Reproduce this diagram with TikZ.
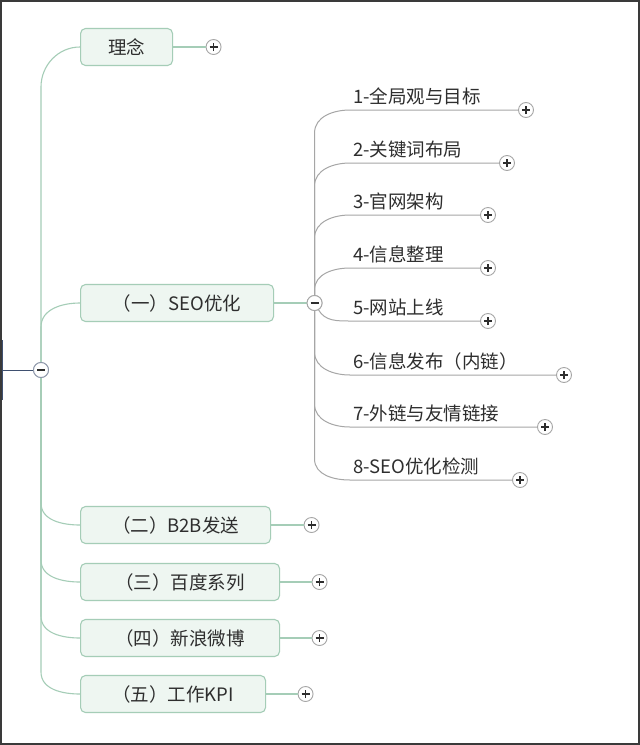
\documentclass[tikz,border=0pt]{standalone}
\usepackage{fontspec}
\setmainfont{Noto Sans CJK SC}
\usetikzlibrary{positioning,calc}
\definecolor{MapGreen}{HTML}{A5CDB7}
\definecolor{MapFill}{HTML}{EEF6F1}
\definecolor{MapGray}{HTML}{A6A6A6}
\definecolor{MapInk}{HTML}{2E2E2E}
\definecolor{RootInk}{HTML}{3F5070}
\definecolor{FrameInk}{HTML}{3A3A3A}

\begin{document}
\begin{tikzpicture}[x=1pt, y=-1pt,
  topicbox/.style={rounded corners=5pt, draw=MapGreen, line width=1.1pt,
               fill=MapFill, minimum height=37pt, anchor=west, inner sep=0pt,
               font=\fontsize{18.5}{21}\selectfont, text=MapInk},
  subtopic/.style={anchor=south west, inner xsep=3pt, inner ysep=2.5pt,
               text height=14pt, text depth=4pt,
               font=\fontsize{18.5}{21}\selectfont, text=MapInk},
  toggle/.style={circle, draw=MapGray, fill=white, line width=0.9pt,
               minimum size=15pt, inner sep=0pt},
  plusmark/.style={toggle, path picture={
      \draw[MapInk, line width=1.1pt]
        ([xshift=-4pt]path picture bounding box.center) -- ([xshift=4pt]path picture bounding box.center)
        ([yshift=-4pt]path picture bounding box.center) -- ([yshift=4pt]path picture bounding box.center);}},
  minusmark/.style={toggle, path picture={
      \draw[MapInk, line width=1.6pt]
        ([xshift=-4pt]path picture bounding box.center) -- ([xshift=4pt]path picture bounding box.center);}},
  mainlink/.style={draw=MapGreen, line width=1.1pt},
  sublink/.style={draw=MapGray, line width=1pt},
  rootlink/.style={draw=RootInk, line width=1pt}
]
\useasboundingbox (0,0) rectangle (640,745);
\fill[white] (0,0) rectangle (640,745);

% root side
\node[fill=RootInk, minimum width=2.5pt, minimum height=60pt, inner sep=0pt] (root) at (1.25,370) {};
\node[minusmark, draw=RootInk!60] (rootc) at (41,370) {};

% main topics
\node[topicbox, minimum width=92pt] (idea) at (80,47) {理念};
\node[topicbox, minimum width=193pt] (seo) at (80,303) {（一）SEO优化};
\node[topicbox, minimum width=190pt] (btob) at (80,525) {（二）B2B发送};
\node[topicbox, minimum width=199pt] (baidu) at (80,582) {（三）百度系列};
\node[topicbox, minimum width=199pt] (sina) at (80,638) {（四）新浪微博};
\node[topicbox, minimum width=185pt] (kpi) at (80,694) {（五）工作KPI};

\node[plusmark, right=32.5pt of idea] (ideap) {};
\node[minusmark, right=32.5pt of seo] (seoc) {};
\node[plusmark, right=32.5pt of btob] (btobp) {};
\node[plusmark, right=31.5pt of baidu] (baidup) {};
\node[plusmark, right=31.5pt of sina] (sinap) {};
\node[plusmark, right=31.5pt of kpi] (kpip) {};

% SEO subtopics
\node[subtopic] (t1) at (350,110) {1-全局观与目标};
\node[subtopic] (t2) at (350,163) {2-关键词布局};
\node[subtopic] (t3) at (350,215) {3-官网架构};
\node[subtopic] (t4) at (350,268) {4-信息整理};
\node[subtopic] (t5) at (350,321) {5-网站上线};
\node[subtopic] (t6) at (350,375) {6-信息发布（内链）};
\node[subtopic] (t7) at (350,427) {7-外链与友情链接};
\node[subtopic] (t8) at (350,480) {8-SEO优化检测};

\node[plusmark] (p1) at (526,110) {};
\node[plusmark] (p2) at (507,163) {};
\node[plusmark] (p3) at (488,215) {};
\node[plusmark] (p4) at (488,268) {};
\node[plusmark] (p5) at (488,321) {};
\node[plusmark] (p6) at (564,375) {};
\node[plusmark] (p7) at (545,427) {};
\node[plusmark] (p8) at (520,480) {};

\draw[rootlink] (root) -- (rootc);

\draw[mainlink] (rootc) -- ($(rootc |- idea.west)+(0,40)$) to[out=90,in=180] (idea.west);
\draw[mainlink] (rootc) -- ($(rootc |- seo.west)+(0,24)$) to[out=90,in=180] (seo.west);
\draw[mainlink] (rootc) -- ($(rootc |- btob.west)+(0,-22)$) to[out=-90,in=180] (btob.west);
\draw[mainlink] (rootc) -- ($(rootc |- baidu.west)+(0,-22)$) to[out=-90,in=180] (baidu.west);
\draw[mainlink] (rootc) -- ($(rootc |- sina.west)+(0,-22)$) to[out=-90,in=180] (sina.west);
\draw[mainlink] (rootc) -- ($(rootc |- kpi.west)+(0,-22)$) to[out=-90,in=180] (kpi.west);

\draw[mainlink] (idea) -- (ideap);
\draw[mainlink] (seo) -- (seoc);
\draw[mainlink] (btob) -- (btobp);
\draw[mainlink] (baidu) -- (baidup);
\draw[mainlink] (sina) -- (sinap);
\draw[mainlink] (kpi) -- (kpip);

\draw[sublink] (seoc) -- ($(seoc |- t1.south)+(0,23)$) to[out=90,in=180] (t1.south west) -- (p1);
\draw[sublink] (seoc) -- ($(seoc |- t2.south)+(0,23)$) to[out=90,in=180] (t2.south west) -- (p2);
\draw[sublink] (seoc) -- ($(seoc |- t3.south)+(0,23)$) to[out=90,in=180] (t3.south west) -- (p3);
\draw[sublink] (seoc) -- ($(seoc |- t4.south)+(0,22)$) to[out=90,in=180] (t4.south west) -- (p4);
\draw[sublink] (seoc) to[out=-60,in=180] (t5.south west) -- (p5);
\draw[sublink] (seoc) -- ($(seoc |- t6.south)+(0,-23)$) to[out=-90,in=180] (t6.south west) -- (p6);
\draw[sublink] (seoc) -- ($(seoc |- t7.south)+(0,-23)$) to[out=-90,in=180] (t7.south west) -- (p7);
\draw[sublink] (seoc) -- ($(seoc |- t8.south)+(0,-21)$) to[out=-90,in=180] (t8.south west) -- (p8);

% redraw toggles over the lines
\node[minusmark, draw=RootInk!60] at (rootc) {};
\node[minusmark] at (seoc) {};

\draw[FrameInk, line width=2pt] (1,1) rectangle (639,744);
\end{tikzpicture}
\end{document}
